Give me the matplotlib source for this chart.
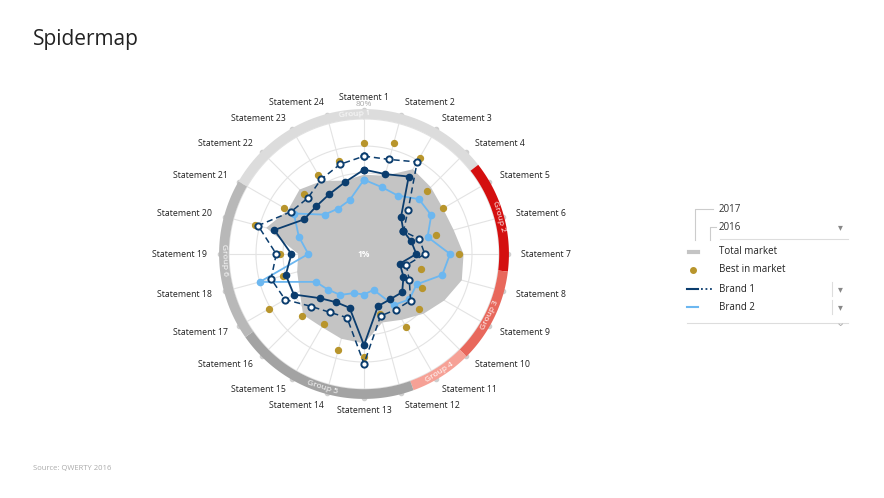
import numpy as np
import matplotlib
matplotlib.use("Agg")
import matplotlib.pyplot as plt
from matplotlib.lines import Line2D

plt.rcParams['font.family'] = ['Open Sans', 'DejaVu Sans']

statements = [f"Statement {i}" for i in range(1, 25)]
total_market = [47, 48, 58, 56, 54, 55, 59, 60, 55, 50, 45, 42, 53, 52, 50, 51, 44, 41, 39, 60, 52, 54, 50, 45]
best_in_market = [66, 68, 66, 53, 54, 44, 56, 35, 40, 46, 50, 37, 61, 59, 48, 52, 65, 50, 50, 67, 55, 50, 54, 57]
brand1_2017 = [50, 49, 53, 31, 27, 29, 31, 22, 27, 32, 31, 32, 54, 33, 33, 37, 48, 48, 43, 55, 41, 40, 41, 44]
brand1_2016 = [58, 58, 63, 37, 27, 34, 36, 26, 31, 39, 38, 38, 65, 39, 40, 44, 54, 57, 52, 65, 50, 47, 51, 55]
brand2_2017 = [44, 41, 40, 46, 46, 39, 51, 48, 36, 38, 35, 22, 24, 24, 28, 30, 33, 64, 33, 40, 48, 33, 31, 33]
groups = ["Group 1", "Group 2", "Group 3", "Group 4", "Group 5", "Group 6"]
group_spans = [(-60, 52), (52, 97), (97, 135), (135, 160), (160, 235), (235, 300)]
group_colors = ["#dcdcdc", "#d40f0f", "#e8685c", "#f6a196", "#a3a3a3", "#b8b8b8"]

W, H = 884, 498
fig = plt.figure(figsize=(W/100, H/100), dpi=100)
cx, cy, Rp = 364, 254, 141.75
ax = fig.add_axes([(cx-Rp)/W, (H-cy-Rp)/H, 2*Rp/W, 2*Rp/H], projection='polar')
ax.set_theta_zero_location('N')
ax.set_theta_direction(-1)
ax.set_ylim(0, 84)
ax.axis('off')

n = len(statements)
th = np.deg2rad(np.arange(n) * 360 / n)
thc = np.append(th, th[0])
close = lambda v: np.append(v, v[0])

tt = np.linspace(0, 2*np.pi, 300)
for r in [16, 32, 48, 64, 80]:
    ax.plot(tt, np.full_like(tt, r), color='#e3e3e3', lw=0.8, zorder=1)
for t in th:
    ax.plot([t, t], [0, 80], color='#e3e3e3', lw=0.8, zorder=1)

ax.fill(thc, close(total_market), color='#c4c4c4', zorder=2, lw=0)
ax.scatter(th, best_in_market, color='#b8952c', s=18, zorder=5)
ax.plot(thc, close(brand2_2017), color='#6cb7f0', lw=1.3, marker='o', ms=4.5, zorder=4)
ax.plot(thc, close(brand1_2016), color='#0b3d6e', lw=1.1, ls=(0, (4, 2.5)), marker='o', ms=4.5,
        mfc='white', mec='#0b3d6e', mew=1.4, zorder=6)
ax.plot(thc, close(brand1_2017), color='#0b3d6e', lw=1.3, marker='o', ms=4.5, zorder=7)

for (a0, a1), col, g in zip(group_spans, group_colors, groups):
    t = np.deg2rad(np.linspace(a0, a1, 100))
    ax.plot(t, np.full_like(t, 83), color=col, lw=7, solid_capstyle='butt', zorder=3, clip_on=False)
    mid = (a0 + a1) / 2
    m = (mid + 180) % 360 - 180
    rot = -mid if -90 < m < 90 else 180 - mid
    ax.text(np.deg2rad(mid), 83, g, color='white', fontsize=6, ha='center', va='center',
            rotation=rot, rotation_mode='anchor', zorder=8, clip_on=False)
for t in th:
    ax.plot([t], [85.5], marker='o', ms=3, color='#cfcfcf', zorder=2, clip_on=False)

for t, s in zip(th, statements):
    deg = np.rad2deg(t)
    ha = 'center' if deg in (0, 180) else ('left' if deg < 180 else 'right')
    ax.text(t, 93, s, fontsize=6.3, ha=ha, va='center', color='#222222', clip_on=False)
ax.text(0, 0, "1%", fontsize=6, ha='center', va='center', color='white', fontweight='bold', zorder=9)
ax.text(0, 88.5, "80%", fontsize=6, ha='center', va='center', color='#aaaaaa', clip_on=False)

fig.text(33/W, 1-40/H, "Spidermap", fontsize=15, color='#222222', va='center')
fig.text(33/W, 1-468/H, "Source: QWERTY 2016", fontsize=5.5, color='#aaaaaa', va='center')

def fx(x): return x/W
def fy(y): return 1-y/H
lc = '#cccccc'
fig.add_artist(Line2D([fx(695), fx(695), fx(713)], [fy(240), fy(209), fy(209)], color=lc, lw=0.8))
fig.add_artist(Line2D([fx(710), fx(710), fx(716)], [fy(240), fy(227), fy(227)], color=lc, lw=0.8))
fig.text(fx(719), fy(209), "2017", fontsize=7, va='center', color='#333333')
fig.text(fx(719), fy(227), "2016", fontsize=7, va='center', color='#333333')
fig.text(fx(838), fy(227), "▾", fontsize=7, va='center', color='#888888', family=['DejaVu Sans'])
fig.add_artist(Line2D([fx(720), fx(848)], [fy(239), fy(239)], color='#dddddd', lw=0.8))
fig.add_artist(Line2D([fx(689), fx(698)], [fy(252), fy(252)], color='#c4c4c4', lw=3))
fig.text(fx(719), fy(252), "Total market", fontsize=7, va='center', color='#222222')
fig.add_artist(Line2D([fx(693)], [fy(270)], marker='o', ms=4, color='#b8952c'))
fig.text(fx(719), fy(270), "Best in market", fontsize=7, va='center', color='#222222')
fig.add_artist(Line2D([fx(687), fx(698)], [fy(289), fy(289)], color='#0b3d6e', lw=1.5))
fig.add_artist(Line2D([fx(701), fx(713)], [fy(289), fy(289)], color='#0b3d6e', lw=1.3, ls=(0, (1, 1.5))))
fig.text(fx(719), fy(289), "Brand 1", fontsize=7, va='center', color='#222222')
fig.add_artist(Line2D([fx(687), fx(698)], [fy(307), fy(307)], color='#6cb7f0', lw=1.5))
fig.text(fx(719), fy(307), "Brand 2", fontsize=7, va='center', color='#222222')
for y in (289, 307):
    fig.add_artist(Line2D([fx(832), fx(832)], [fy(y-7), fy(y+7)], color='#dddddd', lw=0.8))
    fig.text(fx(838), fy(y), "▾", fontsize=7, va='center', color='#888888', family=['DejaVu Sans'])
fig.add_artist(Line2D([fx(687), fx(848)], [fy(323), fy(323)], color='#dddddd', lw=0.8))
fig.text(fx(836), fy(323), "⌄", fontsize=8, va='center', color='#aaaaaa', family=['DejaVu Sans'])

fig.savefig("out.png", dpi=100)
